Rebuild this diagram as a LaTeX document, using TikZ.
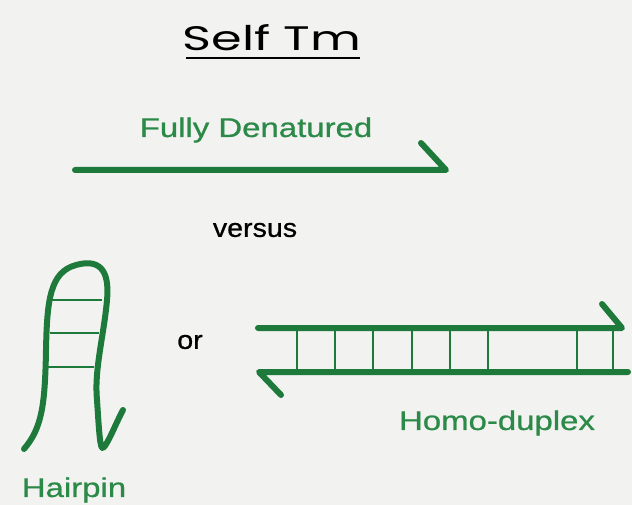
\documentclass[tikz,border=0pt]{standalone}
\usepackage{fontspec}
\setmainfont{Liberation Sans}[FakeBold=0.7]
\newfontfamily\titlefont{Poppins}
\definecolor{dna}{RGB}{30,122,58}
\definecolor{dnatext}{RGB}{44,138,72}
\definecolor{bg}{RGB}{242,242,241}
\begin{document}
\begin{tikzpicture}[x=1pt,y=-1pt,
  strand/.style={draw=dna,line width=6pt,line cap=round,line join=round},
  rung/.style={draw=dna,line width=2.4pt},
  greenlbl/.style={text=dnatext,font=\fontsize{27}{30}\selectfont,xscale=1.22,inner sep=0pt},
  blacklbl/.style={text=black,font=\fontsize{26}{30}\selectfont,xscale=1.1,inner sep=0pt}]
\fill[bg] (0,0) rectangle (632,505);
\useasboundingbox (0,0) rectangle (632,505);
% title
\node[inner sep=0pt,font=\titlefont\fontsize{34}{38}\selectfont,xscale=1.45] (title) at (272,38) {Self Tm};
\coordinate (ul1) at (186,58);
\coordinate (ul2) at (360,58);
\draw[line width=2.4pt] (ul1) -- (ul2);
% fully denatured
\node[greenlbl] (fd) at (256,130) {Fully Denatured};
\coordinate (fa) at (75,170);
\coordinate (fb) at (446,170);
\coordinate (fc) at (421,143);
\draw[strand] (fa) -- (fb) -- (fc);
\node[blacklbl] (vs) at (255,230) {versus};
% hairpin
\coordinate (h0) at (24,449);
\coordinate (h1) at (123,410);
\draw[strand] (h0) .. controls (42,428) and (45,405) .. (46,350)
  .. controls (47,300) and (50,272) .. (76,265)
  .. controls (98,259) and (110,268) .. (107,300)
  .. controls (104,335) and (94,370) .. (97,400)
  .. controls (99,430) and (100,450) .. (103,448)
  .. controls (108,444) and (115,425) .. (h1);
\draw[rung] (52,300) -- (102,300);
\draw[rung] (50,333) -- (99,333);
\draw[rung] (48,367) -- (94,367);
\node[greenlbl,anchor=center] (hp) at (74,490) {Hairpin};
\node[blacklbl] (or) at (190,342) {or};
% duplex
\coordinate (ta) at (258,328);
\coordinate (tb) at (622,328);
\coordinate (tc) at (602,304);
\draw[strand] (ta) -- (tb) -- (tc);
\coordinate (ba) at (628,372);
\coordinate (bb) at (259,372);
\coordinate (bc) at (281,395);
\draw[strand] (ba) -- (bb) -- (bc);
\foreach \x in {297,335,373,412,450,488,577,613}
  \draw[rung] (\x,328) -- (\x,372);
\node[greenlbl] (hd) at (497,423) {Homo-duplex};
\end{tikzpicture}
\end{document}
